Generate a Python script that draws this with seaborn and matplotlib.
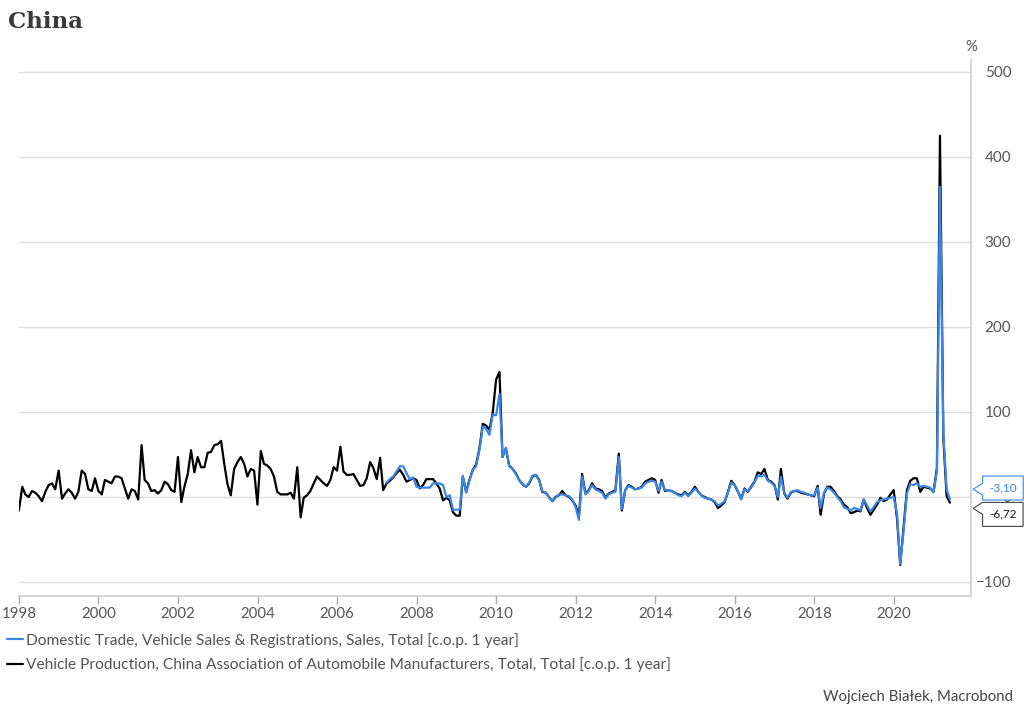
import matplotlib
matplotlib.use("Agg")
import matplotlib.pyplot as plt
import matplotlib.dates as mdates
from matplotlib.path import Path
import pandas as pd
import seaborn as sns

# Year-on-year change, %, monthly (month-end dates)
production_start = "1997-12-31"
production = [
    -16, 12, 3, 0, 7, 5, 1, -5, 6, 14,
    16, 9, 31, -2, 4, 9, 5, -2, 6, 31,
    27, 9, 7, 22, 7, 3, 20, 18, 16, 24,
    24, 22, 10, -2, 9, 7, -3, 61, 20, 16,
    7, 8, 4, 8, 18, 15, 8, 6, 47, -6,
    12, 27, 55, 29, 47, 35, 35, 52, 53, 61,
    62, 66, 40, 15, 2, 33, 41, 47, 39, 24,
    33, 31, -9, 54, 39, 37, 33, 24, 6, 3,
    3, 3, 5, -2, 35, -24, -1, 2, 7, 16,
    24, 20, 16, 13, 20, 35, 31, 59, 30, 26,
    26, 27, 20, 13, 14, 22, 41, 34, 21, 46,
    8, 16, 19, 23, 28, 32, 26, 18, 20, 22,
    20, 10, 14, 21, 21, 21, 16, 10, -4, -1,
    -4, -18, -22, -22, 24, 6, 20, 32, 38, 57,
    86, 84, 79, 99, 138, 147, 47, 57, 37, 33,
    28, 20, 15, 12, 16, 24, 26, 20, 6, 5,
    0, -5, 0, 2, 7, 2, 0, -4, -10, -22,
    27, 4, 8, 16, 10, 9, 7, -1, 4, 6,
    8, 51, -16, 8, 14, 12, 9, 10, 12, 18,
    20, 22, 20, 5, 20, 7, 8, 7, 5, 3,
    2, 6, 2, 6, 12, 6, 2, 0, -2, -3,
    -6, -13, -10, -6, 6, 19, 14, 6, -2, 10,
    6, 12, 18, 29, 27, 33, 20, 18, 14, -3,
    33, 4, -2, 5, 7, 7, 5, 4, 3, 2,
    1, 13, -21, 4, 12, 12, 7, 1, -3, -9,
    -12, -19, -18, -16, -17, -3, -13, -21, -15, -9,
    -1, -5, -3, 3, 8, -26, -80, -35, 8, 19,
    22, 22, 6, 12, 11, 10, 6, 34, 425, 69,
    1, -6.72,
]

sales_start = "2007-03-31"
sales = [
    17, 21, 24, 30, 36, 36, 28, 21, 23, 12,
    11, 11, 11, 11, 16, 16, 16, 14, 0, 2,
    -15, -15, -15, 25, 5, 19, 32, 36, 55, 83,
    80, 73, 97, 96, 121, 47, 58, 36, 33, 27,
    20, 15, 12, 17, 25, 26, 19, 7, 5, 0,
    -5, -1, 3, 3, 2, 1, -3, -12, -27, 24,
    3, 7, 14, 9, 7, 5, -2, 3, 5, 6,
    47, -14, 8, 13, 11, 9, 10, 11, 16, 18,
    19, 18, 7, 18, 8, 8, 7, 5, 2, 1,
    5, 1, 5, 10, 6, 2, -1, -2, -3, -5,
    -10, -8, -5, 5, 17, 14, 6, -3, 9, 7,
    11, 17, 25, 24, 26, 19, 17, 13, 0, 24,
    5, -1, 6, 7, 8, 6, 5, 3, 2, 2,
    11, -13, 5, 11, 9, 5, 0, -5, -12, -14,
    -16, -13, -14, -16, -3, -10, -17, -12, -6, -4,
    -3, -2, -1, 0, -20, -79, -40, 4, 15, 14,
    16, 12, 13, 12, 11, 6, 30, 365, 75, 9,
    -3.10,
]

legend_labels = [
    "Domestic Trade, Vehicle Sales & Registrations, Sales, Total [c.o.p. 1 year]",
    "Vehicle Production, China Association of Automobile Manufacturers, Total, Total [c.o.p. 1 year]",
]
blue = "#3a86e8"
black = "#000000"

prod_df = pd.DataFrame({
    "date": pd.date_range(production_start, periods=len(production), freq="ME"),
    "value": production,
})
sales_df = pd.DataFrame({
    "date": pd.date_range(sales_start, periods=len(sales), freq="ME"),
    "value": sales,
})

sns.set_theme(style="white")
plt.rcParams["font.family"] = ["Lato", "DejaVu Sans"]

fig = plt.figure(figsize=(10.24, 7.17), dpi=100)
ax = fig.add_axes([19 / 1024, 1 - 596 / 717, 952 / 1024, 536 / 717])

sns.lineplot(data=prod_df, x="date", y="value", color=black, linewidth=1.6, ax=ax, label=legend_labels[1])
sns.lineplot(data=sales_df, x="date", y="value", color=blue, linewidth=1.6, ax=ax, label=legend_labels[0])

ax.set_xlim(pd.Timestamp("1998-01-01"), pd.Timestamp("2021-12-10"))
ax.set_ylim(-116.5, 514)
ax.set_xlabel("")
ax.set_ylabel("")

ax.xaxis.set_major_locator(mdates.YearLocator(2))
ax.xaxis.set_major_formatter(mdates.DateFormatter("%Y"))
ax.set_yticks([-100, 0, 100, 200, 300, 400, 500])
ax.yaxis.tick_right()
ax.grid(axis="y", color="#dedede", linewidth=1)
ax.grid(axis="x", visible=False)

ax.tick_params(axis="x", bottom=True, length=6, width=1, color="#aaaaaa",
               labelsize=10.8, labelcolor="#555555", pad=2)
ax.tick_params(axis="y", right=True, length=0, pad=29,
               labelsize=11, labelcolor="#555555")
for lab in ax.get_yticklabels():
    lab.set_horizontalalignment("right")

for side in ["top", "left"]:
    ax.spines[side].set_visible(False)
ax.spines["right"].set_color("#cfcfcf")
ax.spines["bottom"].set_color("#cfcfcf")

ax.text(1.0, 1.024, "%", transform=ax.transAxes, ha="center", va="center",
        fontsize=10.8, color="#555555")


# callout box with a pointer on its left side
def callout(tip_frac):
    def style(x0, y0, width, height, mutation_size):
        pad = 0.55 * mutation_size
        x0, y0 = x0 - pad, y0 - pad
        width, height = width + 2 * pad, height + 2 * pad
        x1, y1 = x0 + width, y0 + height
        ty = y0 + tip_frac * height
        half = 0.25 * height
        verts = [(x0, y0), (x1, y0), (x1, y1), (x0, y1),
                 (x0, min(ty + half, y1)), (x0 - 0.8 * mutation_size, ty),
                 (x0, max(ty - half, y0)), (x0, y0)]
        return Path(verts, closed=True)
    return style


tr = ax.get_yaxis_transform()
ax.text(1.019, 10.5, "-3,10", transform=tr, ha="left", va="center", fontsize=8.5,
        color=blue, clip_on=False,
        bbox=dict(boxstyle=callout(0.45), facecolor="white", edgecolor=blue, linewidth=0.8))
ax.text(1.019, -20.5, "-6,72", transform=tr, ha="left", va="center", fontsize=8.5,
        color="#111111", clip_on=False,
        bbox=dict(boxstyle=callout(0.75), facecolor="white", edgecolor="#444444", linewidth=0.8))

# legend, blue entry first
handles, labels = ax.get_legend_handles_labels()
ax.get_legend().remove()
fig.legend(handles[::-1], labels[::-1], loc="upper left", bbox_to_anchor=(7 / 1024, 1 - 633 / 717),
           frameon=False, fontsize=11.2, handlelength=1.05, handletextpad=0.2,
           labelspacing=0.6, borderpad=0, borderaxespad=0, labelcolor="#555555")

fig.text(8 / 1024, 1 - 22 / 717, "China", fontsize=16.5, fontweight="bold",
         family="DejaVu Serif", color="#3a3a3a", va="center", ha="left")
fig.text(1013 / 1024, 1 - 697 / 717, "Wojciech Białek, Macrobond", fontsize=10.8,
         color="#444444", ha="right", va="center")

fig.savefig("out.png", dpi=100)
